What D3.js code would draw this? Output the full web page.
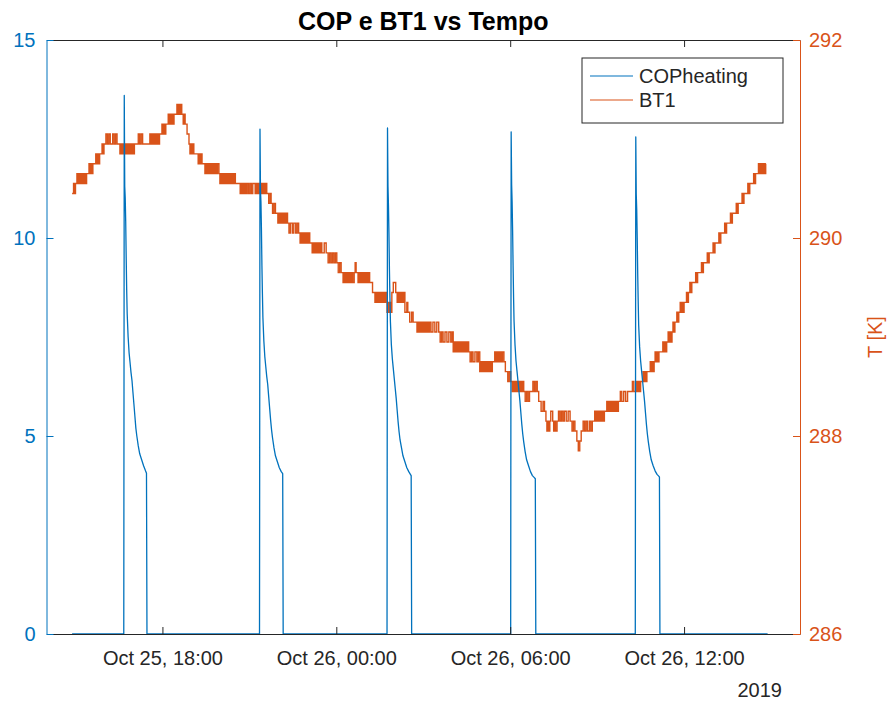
<!DOCTYPE html>
<html>
<head>
<meta charset="utf-8">
<script src="https://cdn.jsdelivr.net/npm/d3@7"></script>
<style>
  body { margin: 0; background: #fff; }
  svg { display: block; }
  text { font-family: "Liberation Sans", Arial, Helvetica, sans-serif; }
</style>
</head>
<body>
<svg id="chart" width="894" height="704"></svg>
<script>
// Time origin for the minute offsets used below, and the axis time window
const timeOrigin = new Date(2019, 9, 25, 14, 0);
const timeWindow = [new Date(2019, 9, 25, 14, 0), new Date(2019, 9, 26, 16, 0)];

const xTickTimes = [
  new Date(2019, 9, 25, 18, 0), new Date(2019, 9, 26, 0, 0),
  new Date(2019, 9, 26, 6, 0), new Date(2019, 9, 26, 12, 0)
];
const xTickLabels = ["Oct 25, 18:00", "Oct 26, 00:00", "Oct 26, 06:00", "Oct 26, 12:00"];
const yearLabel = "2019";

const copDomain = [0, 15];
const copTicks = [0, 5, 10, 15];
const tempDomain = [286, 292];
const tempTicks = [286, 288, 290, 292];

const seriesNames = ["COPheating", "BT1"];
const seriesColors = ["#0072BD", "#D95319"];

// COPheating readings: [minutes since 25 Oct 14:00, COP]
const copReadings = [
  [53,0],[160,0],
  [161,13.6],[162,11.3],[163,11.0],[164,10.4],[165,9.5],[166,8.7],[167,8.1],[169,7.5],[171,7.1],[173,6.85],
  [175,6.6],[177,6.4],[179,6.1],[181,5.8],[183,5.5],[185,5.2],[187,5.0],[190,4.75],[193,4.55],[197,4.4],
  [201,4.25],[205,4.12],[207,4.06],[208,0],
  [441,0],
  [442,12.75],[443,11.2],[444,10.9],[445,10.2],[446,9.3],[447,8.6],[448,8.0],[450,7.4],[452,7.0],[454,6.75],
  [456,6.5],[458,6.3],[460,6.0],[462,5.7],[464,5.4],[466,5.15],[468,4.95],[471,4.7],[474,4.5],[478,4.35],
  [482,4.2],[486,4.1],[489,4.05],[490,0],
  [705,0],
  [706,12.78],[707,11.3],[708,10.8],[709,10.1],[710,9.2],[711,8.5],[712,7.9],[714,7.3],[716,6.95],[718,6.7],
  [720,6.45],[722,6.2],[724,5.95],[726,5.65],[728,5.35],[730,5.1],[732,4.9],[735,4.7],[738,4.5],[742,4.35],
  [746,4.2],[750,4.1],[754,4.02],[755,4.0],[756,0],
  [961,0],
  [962,12.68],[963,11.35],[964,10.9],[965,10.2],[966,9.3],[967,8.5],[968,7.9],[970,7.3],[972,6.9],[974,6.65],
  [976,6.4],[978,6.15],[980,5.9],[982,5.6],[984,5.3],[986,5.05],[988,4.85],[991,4.6],[994,4.4],[998,4.25],
  [1002,4.1],[1006,4.0],[1010,3.95],[1012,3.92],[1013,0],
  [1219,0],
  [1220,12.55],[1221,11.1],[1222,10.7],[1223,10.0],[1224,9.1],[1225,8.4],[1226,7.8],[1228,7.25],[1230,6.9],
  [1232,6.65],[1234,6.4],[1236,6.15],[1238,5.9],[1240,5.6],[1242,5.3],[1244,5.05],[1246,4.85],[1249,4.6],
  [1252,4.4],[1256,4.25],[1260,4.12],[1264,4.03],[1268,3.98],[1269,3.96],[1270,0],
  [1493,0]
];

// BT1 readings (sensor steps of 0.1 K): [minutes since 25 Oct 14:00, K]
const bt1Readings = [
  [53,290.45],[56,290.55],[58,290.45],[60,290.55],
  [63,290.65],[65,290.55],[67,290.65],[69,290.55],[71,290.65],[73,290.55],[75,290.65],[77,290.55],[79,290.65],[81,290.55],[83,290.65],
  [88,290.75],[90,290.65],[92,290.75],[94,290.65],[96,290.75],
  [102,290.85],[104,290.75],[106,290.85],[108,290.75],[110,290.85],
  [115,290.95],[117,290.85],[119,290.95],
  [123,291.05],[126,290.95],[129,291.05],[132,290.95],[137,291.05],[140,290.95],[143,291.05],[146,290.95],
  [152,290.85],[154,290.95],[156,290.85],[158,290.95],[160,290.85],[162,290.95],[164,290.85],[166,290.95],
  [168,290.85],[170,290.95],[172,290.85],[174,290.95],[176,290.85],[178,290.95],[180,290.85],[182,290.95],
  [190,291.05],[193,290.95],[196,291.05],[199,290.95],
  [214,291.05],[216,290.95],[218,291.05],[220,290.95],[222,291.05],[224,290.95],[226,291.05],[228,290.95],
  [230,291.05],[232,290.95],[234,291.05],
  [239,291.15],[241,291.05],[243,291.15],[245,291.05],[247,291.15],
  [252,291.25],[254,291.15],[256,291.25],[258,291.15],[260,291.25],[262,291.15],[264,291.25],
  [270,291.35],[272,291.25],[274,291.35],[276,291.25],[278,291.35],[280,291.25],
  [283,291.15],[285,291.25],[287,291.15],[291,291.05],[295,290.95],
  [297,290.85],[299,290.95],[301,290.85],[303,290.95],[305,290.85],
  [314,290.75],[316,290.85],[318,290.75],[320,290.85],[322,290.75],
  [328,290.65],[330,290.75],[332,290.65],[334,290.75],[336,290.65],[338,290.75],[340,290.65],[342,290.75],
  [344,290.65],[346,290.75],[348,290.65],[350,290.75],[352,290.65],[354,290.75],[357,290.65],
  [359,290.55],[361,290.65],[363,290.55],[365,290.65],[367,290.55],[369,290.65],[371,290.55],[373,290.65],
  [375,290.55],[377,290.65],[379,290.55],[381,290.65],[383,290.55],[385,290.65],[387,290.55],[389,290.65],[391,290.55],
  [401,290.45],[403,290.55],[405,290.45],[407,290.55],[409,290.45],[411,290.55],[413,290.45],[415,290.55],
  [418,290.45],[421,290.55],[424,290.45],[427,290.55],
  [432,290.45],[434,290.55],[436,290.45],[438,290.55],[440,290.45],[442,290.55],[444,290.45],[446,290.55],
  [448,290.45],[450,290.55],[452,290.45],[454,290.55],[456,290.45],
  [460,290.35],[463,290.45],[465,290.35],[468,290.25],[471,290.35],[474,290.25],
  [479,290.15],[481,290.25],[483,290.15],[485,290.25],[487,290.15],[489,290.25],[491,290.15],[493,290.25],
  [495,290.15],[497,290.25],[499,290.15],
  [502,290.05],[505,290.15],[509,290.05],[512,290.15],[516,290.05],[519,290.15],[522,290.05],
  [525,289.95],[527,290.05],[529,289.95],[531,290.05],[533,289.95],[535,290.05],[537,289.95],[539,290.05],
  [541,289.95],[543,290.05],[545,289.95],
  [550,289.85],[552,289.95],[554,289.85],[556,289.95],[558,289.85],[560,289.95],[562,289.85],[564,289.95],
  [566,289.85],[568,289.95],[570,289.85],[575,289.95],[579,289.85],
  [583,289.75],[586,289.85],[589,289.75],[592,289.85],[595,289.75],[598,289.85],[601,289.75],
  [604,289.65],[607,289.75],[610,289.65],
  [614,289.55],[616,289.65],[618,289.55],[620,289.65],[622,289.55],[624,289.65],[626,289.55],[628,289.65],
  [630,289.55],[632,289.65],[634,289.55],[637,289.65],[639,289.75],[641,289.65],
  [645,289.55],[647,289.65],[649,289.55],[651,289.65],[653,289.55],[655,289.65],[657,289.55],[659,289.65],
  [661,289.55],[663,289.65],[665,289.55],[667,289.65],[669,289.55],[675,289.45],
  [680,289.35],[682,289.45],[684,289.35],[686,289.45],[688,289.35],[690,289.45],[692,289.35],[694,289.45],
  [696,289.35],[698,289.45],[700,289.35],[702,289.45],
  [705,289.25],[707,289.35],[709,289.25],[711,289.35],[713,289.25],
  [715,289.45],[718,289.55],[723,289.45],
  [726,289.35],[728,289.45],[730,289.35],[732,289.45],[734,289.35],[736,289.45],[738,289.35],[740,289.45],
  [742,289.25],[746,289.35],[748,289.25],[752,289.15],[756,289.25],[759,289.15],
  [767,289.05],[769,289.15],[771,289.05],[773,289.15],[775,289.05],[777,289.15],[779,289.05],[781,289.15],
  [783,289.05],[785,289.15],[787,289.05],[789,289.15],[791,289.05],[793,289.15],
  [796,289.05],[800,289.15],[804,289.05],[808,289.15],[812,289.05],
  [815,288.95],[818,289.05],[821,288.95],[825,289.05],[829,288.95],[833,289.05],[837,288.95],[840,289.05],
  [842,288.85],[844,288.95],[846,288.85],[848,288.95],[850,288.85],[852,288.95],[854,288.85],[856,288.95],
  [858,288.85],[860,288.95],[862,288.85],[864,288.95],[866,288.85],[868,288.95],[870,288.85],[872,288.95],[874,288.85],
  [877,288.75],[880,288.85],[883,288.75],[887,288.85],[891,288.75],[894,288.85],
  [897,288.65],[899,288.75],[901,288.65],[903,288.75],[905,288.65],[907,288.75],[909,288.65],[911,288.75],
  [913,288.65],[915,288.75],[917,288.65],[919,288.75],[921,288.65],[923,288.75],
  [928,288.85],[930,288.75],[932,288.85],[934,288.75],[936,288.85],[938,288.75],[940,288.85],[942,288.75],[944,288.85],
  [947,288.75],[950,288.65],[955,288.55],[958,288.65],[961,288.55],
  [964,288.45],[966,288.55],[968,288.45],[970,288.55],[972,288.45],[974,288.55],[976,288.45],[978,288.55],
  [980,288.45],[982,288.55],[984,288.45],[986,288.55],
  [988,288.45],[991,288.35],[994,288.45],[997,288.35],[1000,288.45],
  [1005,288.45],[1007,288.55],[1010,288.45],[1013,288.55],[1016,288.45],
  [1019,288.35],[1024,288.25],[1028,288.35],[1031,288.25],[1034,288.15],
  [1036,288.05],[1038,288.15],[1040,288.05],[1042,288.15],[1044,288.25],[1048,288.15],
  [1050,288.05],[1052,288.15],[1054,288.05],
  [1057,288.15],[1060,288.25],[1063,288.15],[1066,288.25],[1069,288.15],[1072,288.25],[1076,288.15],[1080,288.25],[1084,288.15],
  [1088,288.05],[1091,288.15],[1094,288.05],
  [1098,287.95],[1101,287.85],[1104,287.95],[1107,288.05],
  [1111,288.15],[1114,288.05],[1117,288.15],[1120,288.05],[1124,288.15],[1127,288.05],[1130,288.15],
  [1135,288.25],[1137,288.15],[1139,288.25],[1141,288.15],[1143,288.25],[1145,288.15],[1147,288.25],[1149,288.15],
  [1151,288.25],[1153,288.15],[1155,288.25],
  [1160,288.35],[1162,288.25],[1164,288.35],[1166,288.25],[1168,288.35],[1170,288.25],[1172,288.35],[1174,288.25],
  [1176,288.35],[1178,288.25],[1180,288.35],[1182,288.25],[1184,288.35],
  [1188,288.45],[1191,288.35],[1195,288.45],[1199,288.35],[1203,288.45],[1213,288.55],[1216,288.45],
  [1222,288.55],[1224,288.45],[1226,288.55],[1228,288.45],[1230,288.55],
  [1235,288.65],[1237,288.55],[1239,288.65],[1241,288.55],[1243,288.65],
  [1250,288.75],[1252,288.65],[1254,288.75],[1256,288.65],[1258,288.75],
  [1260,288.85],[1262,288.75],[1264,288.85],[1266,288.75],[1268,288.85],
  [1276,288.95],[1278,288.85],[1280,288.95],[1282,288.85],[1284,288.95],
  [1287,289.05],[1289,288.95],[1291,289.05],[1293,288.95],[1295,289.05],
  [1297,289.15],[1299,289.05],[1301,289.15],[1305,289.25],[1307,289.15],[1309,289.25],
  [1312,289.35],[1314,289.25],[1316,289.35],[1318,289.25],[1320,289.35],
  [1325,289.45],[1327,289.35],[1329,289.45],
  [1332,289.55],[1334,289.45],[1336,289.55],
  [1344,289.65],[1346,289.55],[1348,289.65],
  [1356,289.75],[1358,289.65],[1360,289.75],
  [1368,289.85],[1370,289.75],[1372,289.85],
  [1380,289.95],[1382,289.85],[1384,289.95],
  [1392,290.05],[1394,289.95],[1396,290.05],
  [1404,290.15],[1406,290.05],[1408,290.15],
  [1416,290.25],[1418,290.15],[1420,290.25],
  [1428,290.35],[1430,290.25],[1432,290.35],
  [1440,290.45],[1442,290.35],[1444,290.45],
  [1452,290.55],[1454,290.45],[1456,290.55],
  [1464,290.65],[1466,290.55],[1468,290.65],
  [1474,290.75],[1476,290.65],[1478,290.75],[1480,290.65],[1482,290.75],[1484,290.65],[1486,290.75],[1488,290.65],[1489,290.75]
];

// ---- layout ----
const plot = { left: 46.5, right: 800, top: 40, bottom: 634 };
const axisInk = "#262626";
const fontSize = 20;

const svg = d3.select("#chart");
const toDate = m => new Date(timeOrigin.getTime() + m * 60000);

const x = d3.scaleTime().domain(timeWindow).range([plot.left, plot.right]);
const yCop = d3.scaleLinear().domain(copDomain).range([plot.bottom, plot.top]);
const yTemp = d3.scaleLinear().domain(tempDomain).range([plot.bottom, plot.top]);

svg.append("rect").attr("width", 894).attr("height", 704).attr("fill", "#fff");

svg.append("defs").append("clipPath").attr("id", "plotClip")
  .append("rect").attr("x", plot.left).attr("y", plot.top - 2)
  .attr("width", plot.right - plot.left).attr("height", plot.bottom - plot.top + 4);

const marks = svg.append("g").attr("clip-path", "url(#plotClip)");

// BT1 temperature trace (held between readings)
const tempLine = d3.line()
  .x(d => x(toDate(d[0])))
  .y(d => yTemp(d[1]))
  .curve(d3.curveStepAfter);
marks.append("path")
  .datum(bt1Readings)
  .attr("fill", "none")
  .attr("stroke", seriesColors[1])
  .attr("stroke-width", 1.4)
  .attr("d", tempLine);

// COPheating trace
const copLine = d3.line()
  .x(d => x(toDate(d[0])))
  .y(d => yCop(d[1]));
marks.append("path")
  .datum(copReadings)
  .attr("fill", "none")
  .attr("stroke", seriesColors[0])
  .attr("stroke-width", 1.3)
  .attr("stroke-linejoin", "round")
  .attr("d", copLine);

// ---- axes ----
function styleAxis(g, color) {
  g.select(".domain").attr("stroke", color).attr("stroke-width", 1);
  g.selectAll(".tick line").attr("stroke", color).attr("stroke-width", 1);
  g.selectAll(".tick text").attr("fill", color).attr("font-size", fontSize)
    .attr("font-family", '"Liberation Sans", Arial, sans-serif');
}

const xBottom = svg.append("g").attr("transform", `translate(0,${plot.bottom})`)
  .call(d3.axisBottom(x).tickValues(xTickTimes).tickSizeInner(-7).tickSizeOuter(0)
    .tickPadding(17).tickFormat((d, i) => xTickLabels[i]));
styleAxis(xBottom, axisInk);

const xTop = svg.append("g").attr("transform", `translate(0,${plot.top})`)
  .call(d3.axisTop(x).tickValues(xTickTimes).tickSizeInner(-7).tickSizeOuter(0).tickFormat(""));
styleAxis(xTop, axisInk);

const yLeft = svg.append("g").attr("transform", `translate(${plot.left},0)`)
  .call(d3.axisLeft(yCop).tickValues(copTicks).tickSizeInner(-7).tickSizeOuter(0).tickPadding(11)
    .tickFormat(d3.format("d")));
styleAxis(yLeft, seriesColors[0]);

const yRight = svg.append("g").attr("transform", `translate(${plot.right},0)`)
  .call(d3.axisRight(yTemp).tickValues(tempTicks).tickSizeInner(-7).tickSizeOuter(0).tickPadding(9)
    .tickFormat(d3.format("d")));
styleAxis(yRight, seriesColors[1]);

// year under the last date label
svg.append("text")
  .attr("x", 782).attr("y", 697)
  .attr("text-anchor", "end")
  .attr("font-size", fontSize)
  .attr("fill", axisInk)
  .text(yearLabel);

// right axis title
svg.append("text")
  .attr("transform", `translate(882,${(plot.top + plot.bottom) / 2}) rotate(-90)`)
  .attr("text-anchor", "middle")
  .attr("font-size", fontSize)
  .attr("fill", seriesColors[1])
  .text("T [K]");

// chart title
svg.append("text")
  .attr("x", (plot.left + plot.right) / 2).attr("y", 30)
  .attr("text-anchor", "middle")
  .attr("font-size", 25)
  .attr("font-weight", "bold")
  .attr("fill", "#000")
  .text("COP e BT1 vs Tempo");

// ---- legend ----
const legend = svg.append("g").attr("transform", "translate(582,58)");
legend.append("rect")
  .attr("width", 201).attr("height", 65)
  .attr("fill", "#fff").attr("stroke", axisInk).attr("stroke-width", 1);
seriesNames.forEach((name, i) => {
  const cy = 18 + i * 24;
  legend.append("line")
    .attr("x1", 8).attr("x2", 51).attr("y1", cy).attr("y2", cy)
    .attr("stroke", seriesColors[i]).attr("stroke-width", 1.2);
  legend.append("text")
    .attr("x", 57).attr("y", cy).attr("dy", "0.35em")
    .attr("font-size", fontSize).attr("fill", axisInk)
    .text(name);
});
</script>
</body>
</html>
